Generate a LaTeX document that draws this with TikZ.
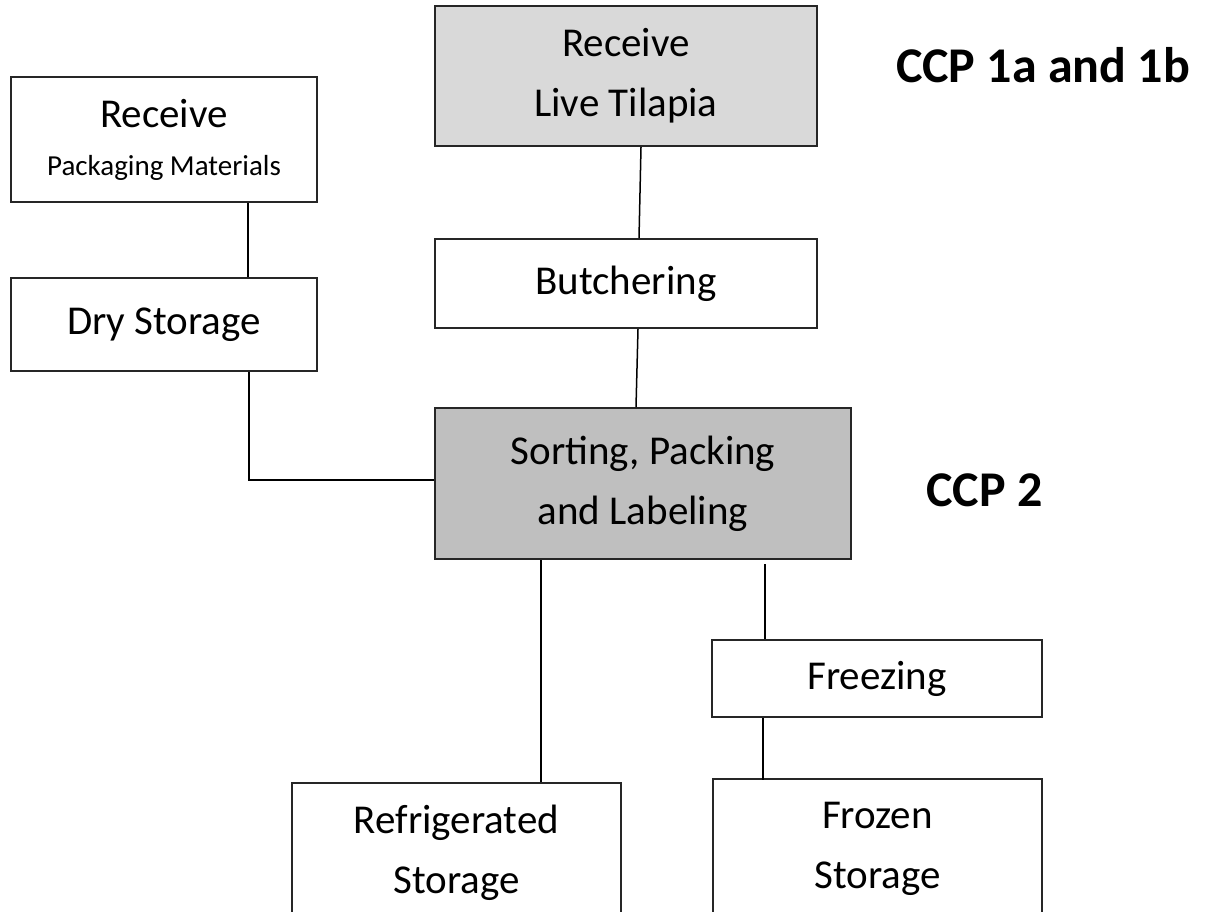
\documentclass[tikz,border=0pt]{standalone}
\usepackage{fontspec}
\setmainfont{Carlito}
\usetikzlibrary{positioning}

\tikzset{
    procbox/.style={draw=black!85, line width=2pt, fill=white, align=center, inner sep=0pt,
        font=\fontsize{41}{60}\selectfont},
    ccpbox/.style={procbox, fill=#1},
    ccplabel/.style={font=\fontsize{50}{60}\selectfont\bfseries, inner sep=0pt},
    link/.style={line width=1.5pt, black}
}

\begin{document}
\begin{tikzpicture}[x=1pt, y=-1pt]
        % Page frame
        \clip (0,0) rectangle (1222,911);
        \fill[white] (0,0) rectangle (1222,911);

        % Main line
        \node[ccpbox=black!15, minimum width=382pt, minimum height=140pt] (tilapia) at (626,76) {Receive\\Live Tilapia};
        \node[procbox, minimum width=382pt, minimum height=89pt] (butcher) at (626,283.5) {Butchering};
        \node[ccpbox=black!25, minimum width=416pt, minimum height=151pt] (sorting) at (643,483.5) {Sorting, Packing\\and Labeling};

        % Packaging line
        \node[procbox, minimum width=306pt, minimum height=125pt] (recvpack) at (164,139.5)
            {Receive\\[-12pt]{\fontsize{29}{35}\selectfont Packaging Materials}};
        \node[procbox, minimum width=306pt, minimum height=93pt] (dry) at (164,324.5) {Dry Storage};

        % Storage
        \node[procbox, minimum width=330pt, minimum height=77pt] (freezing) at (877,678.5) {Freezing};
        \node[procbox, minimum width=329pt, minimum height=139pt] (refrig) at (456.5,852.5) {Refrigerated\\Storage};
        \node[procbox, minimum width=329pt, minimum height=140pt] (frozen) at (877.5,849) {Frozen\\Storage};

        % Critical control points
        \node[ccplabel] (ccp1) at (1043,65) {CCP 1a and 1b};
        \node[ccplabel] (ccp2) at (984.5,490) {CCP 2};

        % Connectors
        \draw[link] ([xshift=15pt]tilapia.south) -- ([xshift=13pt]butcher.north);
        \draw[link] ([xshift=12pt]butcher.south) -- ([xshift=-7pt]sorting.north);
        \draw[link] ([xshift=84pt]recvpack.south) -- ([xshift=84pt]dry.north);
        \draw[link] ([xshift=85pt]dry.south) |- ([yshift=3.5pt]sorting.west);
        \draw[link] ([xshift=-102pt]sorting.south) -- ([xshift=84.5pt]refrig.north);
        \draw[link] ([xshift=122pt,yshift=-4pt]sorting.south) -- ([xshift=-112pt]freezing.north);
        \draw[link] ([xshift=-114pt]freezing.south) -- ([xshift=-114.5pt,yshift=-2pt]frozen.north);
    \end{tikzpicture}
\end{document}
